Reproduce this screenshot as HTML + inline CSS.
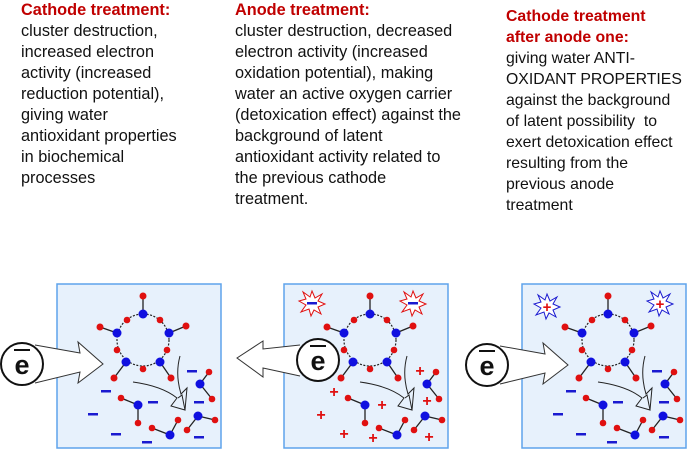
<!DOCTYPE html>
<html><head><meta charset="utf-8"><style>
body{margin:0;width:692px;height:458px;background:#fff;position:relative;overflow:hidden;font-family:"Liberation Sans",sans-serif;font-size:16.3px;line-height:21px;color:#111}
.t{position:absolute;white-space:nowrap}
.h{color:#c00000;font-weight:bold}
svg{position:absolute;left:0;top:0}
</style></head><body>
<div class="t" style="left:21px;top:0px"><span class="h">Cathode treatment:</span><br>cluster destruction,<br>increased electron<br>activity (increased<br>reduction potential),<br>giving water<br>antioxidant properties<br>in biochemical<br>processes</div>
<div class="t" style="left:235px;top:0px"><span class="h">Anode treatment:</span><br>cluster destruction, decreased<br>electron activity (increased<br>oxidation potential), making<br>water an active oxygen carrier<br>(detoxication effect) against the<br>background of latent<br>antioxidant activity related to<br>the previous cathode<br>treatment.</div>
<div class="t" style="left:506px;top:6px;font-size:15.8px"><span class="h">Cathode treatment<br>after anode one:</span><br>giving water ANTI-<br>OXIDANT PROPERTIES<br>against the background<br>of latent possibility&nbsp; to<br>exert detoxication effect<br>resulting from the<br>previous anode<br>treatment</div>
<svg width="692" height="458" viewBox="0 0 692 458">
<defs>
<g id="mol">
<rect x="0" y="0" width="164" height="164" fill="#e7f1fc" stroke="#5ea3ec" stroke-width="1.5"/>
<circle cx="86" cy="56" r="26" fill="none" stroke="#222" stroke-width="1.2" stroke-dasharray="2 1.5"/>
<g stroke="#222" stroke-width="1.3">
<line x1="86" y1="30" x2="86" y2="12"/><line x1="60" y1="49" x2="43" y2="43"/><line x1="112" y1="49" x2="129" y2="42"/><line x1="69" y1="78" x2="57" y2="94"/><line x1="103" y1="78" x2="114" y2="94"/>
<line x1="143" y1="100" x2="152" y2="88"/><line x1="143" y1="100" x2="155" y2="115"/>
<line x1="81" y1="121" x2="64" y2="114"/><line x1="81" y1="121" x2="81" y2="139"/>
<line x1="113" y1="151" x2="95" y2="144"/><line x1="113" y1="151" x2="121" y2="136"/>
<line x1="141" y1="132" x2="130" y2="146"/><line x1="141" y1="132" x2="158" y2="136"/>
</g>
<g fill="#e01010">
<circle cx="86" cy="12" r="3.5"/><circle cx="43" cy="43" r="3.5"/><circle cx="129" cy="42" r="3.5"/><circle cx="57" cy="94" r="3.5"/><circle cx="114" cy="94" r="3.5"/>
<circle cx="70" cy="36" r="3.3"/><circle cx="103" cy="36" r="3.3"/><circle cx="60" cy="66" r="3.3"/><circle cx="110" cy="66" r="3.3"/><circle cx="86" cy="85" r="3.3"/>
<circle cx="152" cy="88" r="3.3"/><circle cx="155" cy="115" r="3.3"/><circle cx="64" cy="114" r="3.3"/><circle cx="81" cy="139" r="3.3"/><circle cx="95" cy="144" r="3.3"/><circle cx="121" cy="136" r="3.3"/><circle cx="130" cy="146" r="3.3"/><circle cx="158" cy="136" r="3.3"/>
</g>
<g fill="#1010e0">
<circle cx="86" cy="30" r="4.5"/><circle cx="60" cy="49" r="4.5"/><circle cx="112" cy="49" r="4.5"/><circle cx="69" cy="78" r="4.5"/><circle cx="103" cy="78" r="4.5"/>
<circle cx="143" cy="100" r="4.5"/><circle cx="81" cy="121" r="4.5"/><circle cx="113" cy="151" r="4.5"/><circle cx="141" cy="132" r="4.5"/>
</g>
<path d="M76 98 Q105 102 120 114 L114 122 L128 126 L125 111 L121 114" fill="none" stroke="#222" stroke-width="1"/>
<path d="M123 72 Q118 90 124 110 L130 104 L128 126" fill="none" stroke="#222" stroke-width="1"/>
</g>
<g id="minus" fill="#1a1ad0">
<rect x="44" y="106" width="10" height="2.5"/><rect x="31" y="129" width="10" height="2.5"/><rect x="54" y="149" width="10" height="2.5"/><rect x="85" y="157" width="10" height="2.5"/><rect x="91" y="117" width="10" height="2.5"/><rect x="130" y="86" width="10" height="2.5"/><rect x="137" y="117" width="10" height="2.5"/><rect x="137" y="152" width="10" height="2.5"/>
</g>
<g id="eR">
<path d="M35 345 L80 353 L78 342 L103 364 L78 383 L80 372 L35 383" fill="#fff" stroke="#333" stroke-width="1"/>
<circle cx="22" cy="364" r="21" fill="#fff" stroke="#111" stroke-width="2"/>
<text x="22" y="374" font-family="Liberation Sans,sans-serif" font-size="27" font-weight="bold" text-anchor="middle" fill="#111">e</text>
<rect x="14" y="349" width="16" height="2" fill="#111"/>
</g>
<g id="star">
<polygon points="0,-12 3,-5 10,-9 6,-2 13,1 6,4 9,11 2,7 -1,13 -3,6 -11,9 -6,2 -13,-2 -6,-4 -9,-11 -2,-6" />
</g>
</defs>
<g transform="translate(57,284)"><use href="#mol"/><use href="#minus"/></g>
<use href="#eR"/>
<g transform="translate(284,284)"><use href="#mol"/>
<g fill="#e01010" font-family="Liberation Sans,sans-serif" font-size="16" font-weight="bold" text-anchor="middle">
<text x="136" y="92">+</text><text x="50" y="113">+</text><text x="98" y="126">+</text><text x="143" y="122">+</text><text x="37" y="136">+</text><text x="60" y="155">+</text><text x="89" y="159">+</text><text x="145" y="158">+</text>
</g>
<use href="#star" transform="translate(28,19)" fill="#fff" stroke="#e01010" stroke-width="1"/>
<use href="#star" transform="translate(129,19)" fill="#fff" stroke="#e01010" stroke-width="1"/>
<rect x="23" y="18" width="10" height="2.5" fill="#1a1ad0"/><rect x="124" y="18" width="10" height="2.5" fill="#1a1ad0"/>
</g>
<path d="M300 345 L263 349 L263 341 L237 358 L263 377 L263 368 L300 376" fill="#fff" stroke="#333" stroke-width="1"/>
<circle cx="318" cy="360" r="21" fill="#fff" stroke="#111" stroke-width="2"/>
<text x="318" y="370" font-family="Liberation Sans,sans-serif" font-size="27" font-weight="bold" text-anchor="middle" fill="#111">e</text>
<rect x="310" y="345" width="16" height="2" fill="#111"/>
<g transform="translate(522,284)"><use href="#mol"/><use href="#minus"/>
<use href="#star" transform="translate(25,22)" fill="#fff" stroke="#1a1ad0" stroke-width="1"/>
<use href="#star" transform="translate(138,19)" fill="#fff" stroke="#1a1ad0" stroke-width="1"/>
<text x="25" y="28" fill="#e01010" font-family="Liberation Sans,sans-serif" font-size="15" font-weight="bold" text-anchor="middle">+</text>
<text x="138" y="25" fill="#e01010" font-family="Liberation Sans,sans-serif" font-size="15" font-weight="bold" text-anchor="middle">+</text>
</g>
<use href="#eR" transform="translate(465,1)"/>
</svg>
</body></html>
